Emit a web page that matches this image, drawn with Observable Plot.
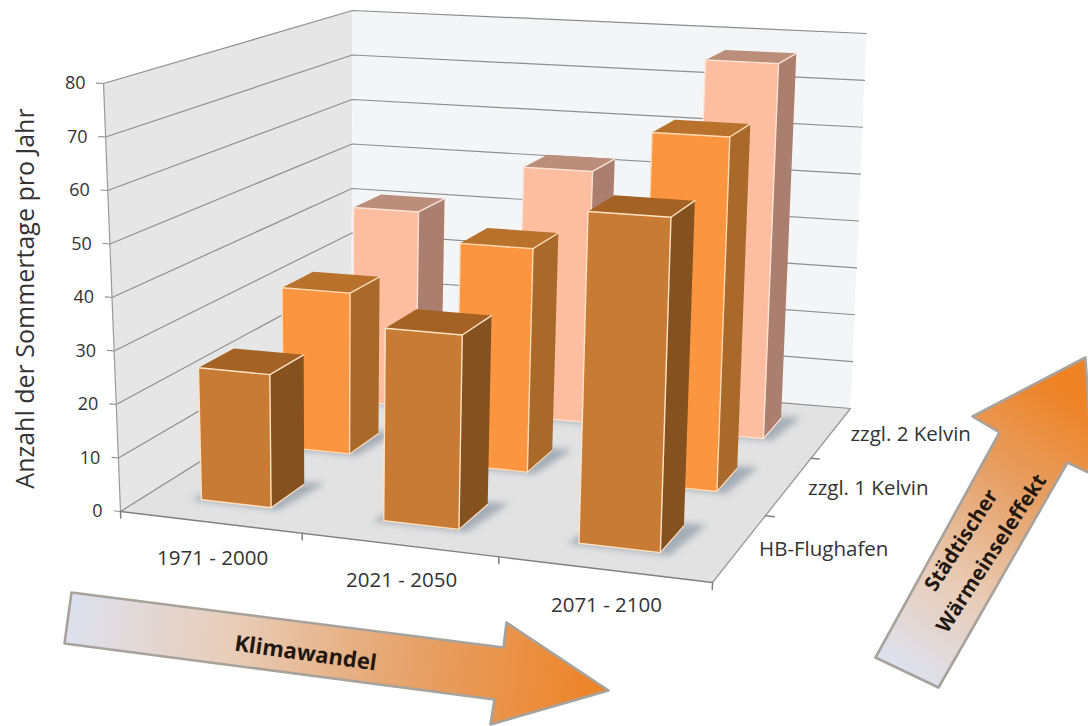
<!DOCTYPE html>
<html>
<head>
<meta charset="utf-8">
<script src="https://cdn.jsdelivr.net/npm/d3@7"></script>
<script src="https://cdn.jsdelivr.net/npm/@observablehq/plot@0.6"></script>
<style>
  html, body { margin: 0; padding: 0; background: #fff; }
  svg { display: block; }
</style>
</head>
<body>
<div id="chart"></div>
<script>
// Summer days per year, by period and by urban heat island scenario
const periods = ["1971 - 2000", "2021 - 2050", "2071 - 2100"];
const scenarios = ["HB-Flughafen", "zzgl. 1 Kelvin", "zzgl. 2 Kelvin"];
const hbFlughafen = [25, 35.6, 59.8];
const zzgl1Kelvin = [32.2, 43.8, 67.9];
const zzgl2Kelvin = [41.5, 52.4, 76.8];
const seriesValues = [hbFlughafen, zzgl1Kelvin, zzgl2Kelvin];
const yTicks = [0, 10, 20, 30, 40, 50, 60, 70, 80];
const yMax = 80;

const WIDTH = 1088, HEIGHT = 726;

// Camera: where the corners of the chart box land on the page
const floorCorners = [[120, 511], [712, 582], [850, 408], [351, 366]];
const ceilingCorners = [[103, 83], [727, 118], [866, 33], [352, 10]];

function homography([[x0, y0], [x1, y1], [x2, y2], [x3, y3]]) {
  const dx1 = x1 - x2, dx2 = x3 - x2, sx = x0 - x1 + x2 - x3;
  const dy1 = y1 - y2, dy2 = y3 - y2, sy = y0 - y1 + y2 - y3;
  const den = dx1 * dy2 - dx2 * dy1;
  const g = (sx * dy2 - dx2 * sy) / den, h = (dx1 * sy - sx * dy1) / den;
  const a = x1 - x0 + g * x1, b = x3 - x0 + h * x3;
  const d = y1 - y0 + g * y1, e = y3 - y0 + h * y3;
  return (u, v) => {
    const w = g * u + h * v + 1;
    return [(a * u + b * v + x0) / w, (d * u + e * v + y0) / w];
  };
}
const floorMap = homography(floorCorners);
const ceilingMap = homography(ceilingCorners);

// u: along the periods, v: into the depth, value: height in days
function project(u, v, value) {
  const [fx, fy] = floorMap(u, v), [cx, cy] = ceilingMap(u, v);
  const t = value / yMax;
  return { x: fx + (cx - fx) * t, y: fy + (cy - fy) * t };
}
const path = (...pts) => pts.map(([u, v, value]) => project(u, v, value));
const closed = (...pts) => path(...pts, pts[0]);

const poly = (pts, options) => Plot.line(pts, { x: "x", y: "y", curve: "linear", ...options });

// Box frame
const walls = [
  poly(closed([0, 0, 0], [0, 1, 0], [0, 1, yMax], [0, 0, yMax]), { fill: "#e6e6e6", stroke: "none" }),
  poly(closed([0, 1, 0], [1, 1, 0], [1, 1, yMax], [0, 1, yMax]), { fill: "#f4f5f6", stroke: "none" }),
  poly(closed([0, 0, 0], [1, 0, 0], [1, 1, 0], [0, 1, 0]), { fill: "#e2e2e2", stroke: "none" })
];
const grid = yTicks.map(t =>
  poly(path([-0.012, 0, t], [0, 0, t], [0, 1, t], [1, 1, t]), { stroke: "#8e8e8e", strokeWidth: 1.2 })
);
const axes = [
  poly(path([0, 0, 0], [0, 0, yMax]), { stroke: "#9a9a9a", strokeWidth: 1.2 }),
  poly(path([0, 0, 0], [1, 0, 0]), { stroke: "#808080", strokeWidth: 1.3 }),
  poly(path([1, 0, 0], [1, 1, 0]), { stroke: "#9a9a9a", strokeWidth: 1.3 }),
  ...[0, 1 / 3, 2 / 3, 1].map(u => poly(path([u, 0, 0], [u, 0, -1.2]), { stroke: "#808080" })),
  ...[1 / 3, 2 / 3].map(v => poly(path([1, v, 0], [1.014, v, 0]), { stroke: "#808080" }))
];

// Bars: one shade set per scenario (front, side, top, edge)
const shades = [
  { front: "#c87b35", side: "#85511f", top: "#a56225", edge: "#ffe2c4" },
  { front: "#fb9540", side: "#a9692b", top: "#b8722c", edge: "#ffd9b4" },
  { front: "#fcbda0", side: "#ab7f70", top: "#bb8d7b", edge: "#ffe2d2" }
];
const barU = 0.39, barV = 0.41;
const shiftU = [0.003, 0.002, -0.002];
const frontRowShiftU = -0.004;
const shiftV = [0.005, 0, -0.007];

function barMarks(p, s) {
  const value = seriesValues[s][p];
  const cu = (p + 0.5) / 3 + shiftU[p] + (s === 0 ? frontRowShiftU : 0);
  const cv = (s + 0.5) / 3 + shiftV[s];
  const u0 = cu - barU / 6, u1 = cu + barU / 6;
  const v0 = cv - barV / 6, v1 = cv + barV / 6;
  const c = shades[s];
  const m = 0.016;
  return [
    poly(closed([u0 - m, v0 - m / 2, 0], [u1 + m, v0 - m / 2, 0], [u1 + 2 * m, v1 + m, 0], [u0, v1, 0]), {
      fill: "#8b98a5", fillOpacity: 0.7, stroke: "none", imageFilter: "blur(3px)"
    }),
    poly(closed([u0, v0, value], [u1, v0, value], [u1, v1, value], [u0, v1, value]), { fill: c.top, stroke: "none" }),
    poly(closed([u1, v0, 0], [u1, v1, 0], [u1, v1, value], [u1, v0, value]), { fill: c.side, stroke: "none" }),
    poly(closed([u0, v0, 0], [u1, v0, 0], [u1, v0, value], [u0, v0, value]), { fill: c.front, stroke: c.edge, strokeWidth: 1.4 }),
    poly(path([u1, v0, value], [u1, v1, value]), { stroke: c.edge, strokeWidth: 1.4 }),
    poly(path([u1, v0, 0], [u1, v1, 0]), { stroke: c.edge, strokeWidth: 1.2 })
  ];
}
const bars = d3.range(2, -1, -1).flatMap(s => d3.range(3).flatMap(p => barMarks(p, s)));

// Direction arrows below and beside the chart
const climateArrow = [[71, 592], [503, 647], [506, 622], [608, 690], [490, 724], [494, 699], [64, 643]];
const heatArrow = [[875, 657], [999, 432], [972, 416], [1085, 357], [1092, 474], [1067, 462], [938, 687]];
const arrowPts = pts => [...pts, pts[0]].map(([x, y]) => ({ x, y }));

function gradient(id, x1, y1, x2, y2) {
  const g = d3.create("svg:linearGradient")
    .attr("id", id).attr("gradientUnits", "userSpaceOnUse")
    .attr("x1", x1).attr("y1", y1).attr("x2", x2).attr("y2", y2);
  [[0, "#dde1ee"], [0.3, "#e8cdb9"], [0.65, "#e6a066"], [1, "#ee8224"]].forEach(([o, col]) =>
    g.append("stop").attr("offset", o).attr("stop-color", col));
  return g.node();
}
const gradients = () => {
  const defs = d3.create("svg:defs");
  defs.append(() => gradient("climateFill", 68, 617, 608, 690));
  defs.append(() => gradient("heatFill", 906, 672, 1085, 400));
  return defs.node();
};

const labelFont = { fontFamily: "'Open Sans', sans-serif", fill: "#333" };
const arrowFont = { fontFamily: "'Open Sans', sans-serif", fontWeight: 700, fill: "#221810" };

const yLabels = yTicks.map(t => {
  const { x, y } = project(0, 0, t);
  return { x: x - 18, y, text: String(t) };
});
const periodLabels = periods.map((name, i) => {
  const { x, y } = project((i + 0.5) / 3, 0, 0);
  return { x: x + 3, y: y + 36, text: name };
});
const scenarioLabels = scenarios.map((name, i) => {
  const { x, y } = project(1, (i + 0.5) / 3, 0);
  return { x: x + 19, y: y + 2, text: name };
});

const chart = Plot.plot({
  width: WIDTH,
  height: HEIGHT,
  margin: 0,
  x: { domain: [0, WIDTH], range: [0, WIDTH], axis: null },
  y: { domain: [0, HEIGHT], range: [0, HEIGHT], axis: null },
  style: { background: "#fff", overflow: "hidden" },
  marks: [
    gradients,
    ...walls,
    ...grid,
    ...axes,
    ...bars,
    Plot.text(yLabels, { x: "x", y: "y", text: "text", textAnchor: "end", fontSize: 18, ...labelFont }),
    Plot.text(periodLabels, { x: "x", y: "y", text: "text", fontSize: 20.5, ...labelFont }),
    Plot.text(scenarioLabels, { x: "x", y: "y", text: "text", textAnchor: "start", fontSize: 20.5, ...labelFont }),
    Plot.text(["Anzahl der Sommertage pro Jahr"], {
      x: () => 25, y: () => 298, text: d => d, rotate: -90, fontSize: 25, ...labelFont
    }),
    poly(arrowPts(climateArrow), { fill: "url(#climateFill)", stroke: "#a8a29c", strokeWidth: 2.6 }),
    poly(arrowPts(heatArrow), { fill: "url(#heatFill)", stroke: "#a8a29c", strokeWidth: 2.6 }),
    Plot.text(["Klimawandel"], { x: () => 305, y: () => 653, text: d => d, rotate: 8, fontSize: 22, ...arrowFont }),
    Plot.text(["Städtischer"], { x: () => 961, y: () => 540, text: d => d, rotate: -57, fontSize: 20.5, ...arrowFont }),
    Plot.text(["Wärmeinseleffekt"], { x: () => 991, y: () => 553, text: d => d, rotate: -57, fontSize: 20.5, ...arrowFont })
  ]
});
document.getElementById("chart").append(chart);
</script>
</body>
</html>
